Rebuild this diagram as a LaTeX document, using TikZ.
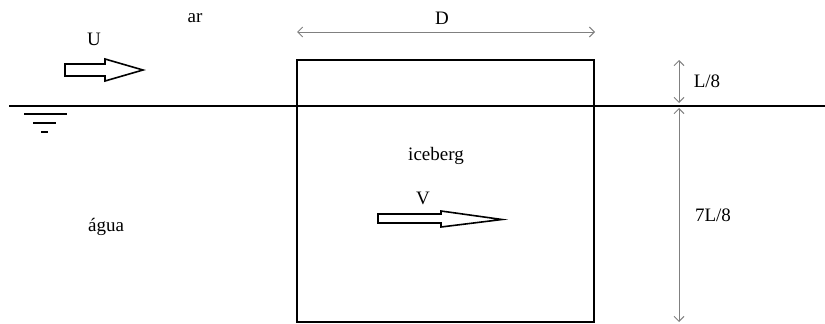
\documentclass[tikz,border=0pt]{standalone}
\usepackage{fontspec}
\setmainfont{Liberation Serif}
\usetikzlibrary{arrows.meta}
\begin{document}
\begin{tikzpicture}[x=1pt,y=-1pt,
  lbl/.style={font=\fontsize{19}{22}\selectfont, inner sep=0pt},
  dim/.style={draw=black!50, line width=1pt, {Straight Barb[length=5pt,width=10pt]}-{Straight Barb[length=5pt,width=10pt]}},
  dimend/.style={draw=black!50, line width=1pt, -{Straight Barb[length=5pt,width=10pt]}},
  thick line/.style={line width=2pt},
  hollow/.style={draw=black, line width=1.6pt, fill=white, line join=miter}]
\useasboundingbox (0,0) rectangle (825,324);
% iceberg box
\node[draw, line width=2pt, minimum width=297pt, minimum height=262pt, inner sep=0pt] (ice) at (445.5,191) {};
% water line
\coordinate (wl1) at (9,106);
\coordinate (wl2) at (825,106);
\draw[thick line] (wl1) -- (wl2);
% water symbol
\draw[line width=2pt] (24,114) -- (67,114);
\draw[line width=2pt] (33,123) -- (56,123);
\draw[line width=2pt] (41,132) -- (48,132);
% labels
\node[lbl] (ar) at (195,18) {ar};
\node[lbl] (U) at (94,39) {U};
\node[lbl] (D) at (442,18) {D};
\node[lbl] (iceberg) at (436,156) {iceberg};
\node[lbl] (V) at (423,198) {V};
\node[lbl] (agua) at (106,227) {água};
\node[lbl] (L8) at (707,81) {L/8};
\node[lbl] (L78) at (713,215) {7L/8};
% D dimension
\coordinate (d1) at (297,32);
\coordinate (d2) at (595,32);
\draw[dim] (d1) -- (d2);
% L/8 dimension
\coordinate (l1) at (679,60);
\coordinate (l2) at (679,103);
\draw[dim] (l1) -- (l2);
% 7L/8 dimension
\coordinate (m1) at (679,108);
\coordinate (m2) at (679,322);
\draw[dim] (m1) -- (m2);
% U hollow arrow
\draw[hollow] (65,64) -- (105,64) -- (105,59) -- (143,70) -- (105,81) -- (105,76) -- (65,76) -- cycle;
% V hollow arrow
\draw[hollow] (378,214) -- (441,214) -- (441,211) -- (502,219.5) -- (441,227) -- (441,223) -- (378,223) -- cycle;
\end{tikzpicture}
\end{document}
